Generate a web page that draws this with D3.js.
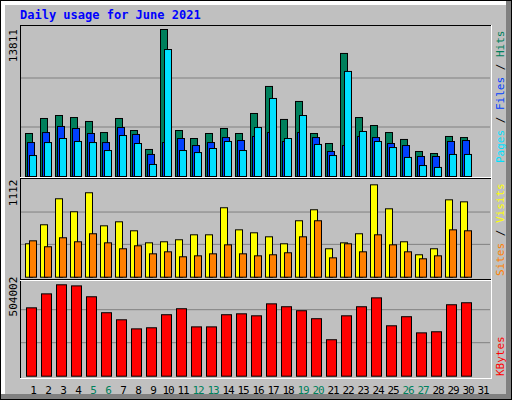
<!DOCTYPE html>
<html><head><meta charset="utf-8">
<script src="https://cdn.jsdelivr.net/npm/d3@7"></script>
<style>body{margin:0;background:#fff}svg{display:block}</style>
</head><body><svg id="c" width="512" height="400"></svg>
<script>
const days = d3.range(1, 32);
const weekends = [5, 6, 12, 13, 19, 20, 26, 27];
const hits = [4040,5450,5730,5540,5170,4130,5450,4320,2540,13811,4320,3570,4040,4510,4040,5920,8460,5360,7050,4040,3100,11560,5540,4790,4130,3480,2350,2160,3760,3660,0];
const files = [3190,4130,4700,4510,4040,3190,4600,3950,2070,3190,3570,2910,3190,3660,3380,3760,4130,3290,4130,3660,2350,2910,3760,3660,3100,2910,1880,1880,3290,3380,0];
const pages = [1970,3190,3570,3290,3190,2440,3850,3100,1130,11930,2440,2250,2630,3290,2440,4600,7330,3570,5730,3010,1970,9870,4230,3290,2720,1790,1030,850,2070,2070,0];
const visits = [383,601,899,750,968,589,635,532,394,406,429,486,486,796,543,509,463,383,647,773,326,394,498,1059,784,406,257,326,887,864,0];
const sites = [417,349,452,406,498,394,326,360,268,291,234,245,268,371,268,245,257,280,463,647,222,383,291,486,371,291,211,245,543,532,0];
const kbytes = [377000,454000,504002,498000,438000,350000,311000,261000,267000,339000,372000,272000,272000,339000,344000,333000,399000,383000,361000,317000,201000,333000,383000,432000,278000,328000,239000,245000,394000,405000,0];

const svg = d3.select('#c');
const font = "'DejaVu Sans Mono', monospace";

// frame with bevel
svg.append('rect').attrs ? null : null;
svg.append('rect').attr('x', 0).attr('y', 0).attr('width', 512).attr('height', 400).attr('fill', '#000');
svg.append('rect').attr('x', 1).attr('y', 1).attr('width', 510).attr('height', 398).attr('fill', '#808080');
svg.append('rect').attr('x', 1).attr('y', 1).attr('width', 505).attr('height', 393).attr('fill', '#fff');
svg.append('rect').attr('x', 5).attr('y', 5).attr('width', 501).attr('height', 389).attr('fill', '#c0c0c0');

svg.append('text').attr('x', 20).attr('y', 19)
	.attr('font-family', font).attr('font-weight', 'bold').attr('font-size', 12)
	.attr('fill', '#0000ff').text('Daily usage for June 2021');

const x = d3.scaleBand().domain(days).range([20, 491]).paddingOuter(0.1).paddingInner(0);
const step = 15;
const x0 = d => 25 + (d - 1) * step;

// plot area
svg.append('rect').attr('x', 20).attr('y', 25).attr('width', 471).attr('height', 353).attr('fill', '#c0c0c0');

const panels = [
	{ top: 29, base: 176, max: 13811, label: '13811' },
	{ top: 179.7, base: 276.7, max: 1112, label: '1112' },
	{ top: 276.7, base: 375.7, max: 504002 * 99 / 91.4, label: '504002' }
];
panels.forEach(p => {
	p.y = d3.scaleLinear().domain([0, p.max]).range([p.base, p.top]);
	[1, 2].forEach(k => {
		const gy = p.y(p.max * k / 3);
		svg.append('line').attr('x1', 21).attr('x2', 490).attr('y1', gy).attr('y2', gy)
			.attr('stroke', '#808080').attr('stroke-width', 1);
	});
});

function bars (series, p, dx, w, fill) {
	svg.append('g').selectAll('rect').data(series).join('rect')
		.filter(d => d > 0)
		.attr('x', (d, i) => x0(i + 1) + dx + 0.5)
		.attr('y', d => p.y(d) + 0.5)
		.attr('width', w)
		.attr('height', d => p.base - p.y(d))
		.attr('fill', fill).attr('stroke', '#000').attr('stroke-width', 1);
}
bars(hits, panels[0], 0, 7, '#00805c');
bars(files, panels[0], 2, 7, '#0040ff');
bars(pages, panels[0], 4, 7, '#00e0ff');
bars(visits, panels[1], 0, 7, '#ffff00');
bars(sites, panels[1], 4, 7, '#ff8000');
bars(kbytes, panels[2], 1, 10, '#ff0000');

// borders
const ln = (x1, y1, x2, y2, c) => svg.append('line').attr('x1', x1).attr('y1', y1).attr('x2', x2).attr('y2', y2).attr('stroke', c).attr('stroke-width', 1);
ln(20.5, 25, 20.5, 378, '#000');
ln(20, 25.5, 491, 25.5, '#000');
ln(491.5, 25, 491.5, 379, '#fff');
ln(20, 378.5, 492, 378.5, '#fff');
ln(20, 177.5, 491, 177.5, '#fff');
ln(20, 178.5, 491, 178.5, '#000');
ln(20, 280.5, 491, 280.5, '#fff');
ln(20, 279.5, 491, 279.5, '#000');

// max labels
panels.forEach(p => {
	svg.append('text').attr('transform', `translate(17,${p.top}) rotate(-90)`)
		.attr('text-anchor', 'end').attr('font-family', font).attr('font-size', 11)
		.attr('fill', '#000').text(p.label);
});

// day labels
svg.append('g').selectAll('text').data(days).join('text')
	.attr('x', d => x0(d) + 8).attr('y', 394)
	.attr('text-anchor', 'middle').attr('font-family', font).attr('font-size', 11)
	.attr('letter-spacing', -1)
	.attr('fill', d => weekends.includes(d) ? '#00805c' : '#000')
	.text(d => d);

// right legends
function legend (yBottom, parts) {
	const t = svg.append('text').attr('transform', `translate(504,${yBottom}) rotate(-90)`)
		.attr('font-family', font).attr('font-size', 11);
	parts.forEach(([s, c]) => t.append('tspan').attr('fill', c).text(s));
}
legend(163, [['Pages', '#00e0ff'], [' / ', '#000'], ['Files', '#0040ff'], [' / ', '#000'], ['Hits', '#00805c']]);
legend(276, [['Sites', '#ff8000'], [' / ', '#000'], ['Visits', '#ffff00']]);
legend(376, [['KBytes', '#ff0000']]);
</script></body></html>
